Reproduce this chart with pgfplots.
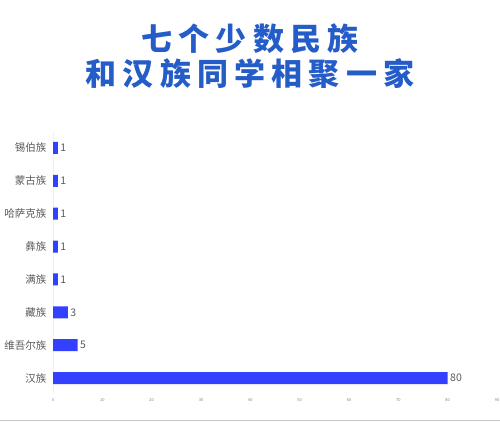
\documentclass[border=0pt]{standalone}
\usepackage{fontspec}
\setmainfont{Noto Sans CJK SC}
\usepackage{pgfplots}
\pgfplotsset{compat=1.18}
\definecolor{barblue}{RGB}{52,64,255}
\definecolor{titleblue}{RGB}{36,92,200}
\definecolor{labelgray}{RGB}{90,90,90}
\begin{document}
\begin{tikzpicture}
\useasboundingbox (0,0) rectangle (500pt,422pt);
\fill[white] (0,0) rectangle (500pt,422pt);
\draw[gray!45, line width=1pt] (0,1.5pt) -- (500pt,1.5pt);
\node[text=titleblue, font=\fontsize{31}{31}\selectfont\bfseries\addfontfeature{LetterSpace=20}] at (250pt,383pt) {七个少数民族};
\node[text=titleblue, font=\fontsize{31}{31}\selectfont\bfseries\addfontfeature{LetterSpace=20}] at (250pt,348pt) {和汉族同学相聚一家};
\begin{axis}[
    at={(53pt,27.5pt)}, anchor=south west,
    scale only axis,
    width=444pt, height=263pt,
    xbar,
    bar width=12pt,
    xmin=0, xmax=90,
    ymin=-0.5, ymax=7.5,
    axis lines=left,
    axis line style={-},
    x axis line style={draw=none},
    y axis line style={draw=gray!12},
    major tick length=0pt,
    xtick={0,10,...,90},
    ytick={0,...,7},
    yticklabels={汉族,维吾尔族,藏族,满族,彝族,哈萨克族,蒙古族,锡伯族},
    /pgf/number format/assume math mode=true,
    x tick label style={font=\fontsize{4}{4}\selectfont, text=gray, yshift=-1pt},
    y tick label style={font=\fontsize{10.5}{10.5}\selectfont, text=labelgray, xshift=-3pt},
    nodes near coords,
    nodes near coords style={font=\fontsize{10.5}{10.5}\selectfont, text=labelgray, anchor=west, xshift=-1pt},
]
\addplot[fill=barblue, draw=none] coordinates {
    (80,0) (5,1) (3,2) (1,3) (1,4) (1,5) (1,6) (1,7)
};
\end{axis}
\end{tikzpicture}
\end{document}
